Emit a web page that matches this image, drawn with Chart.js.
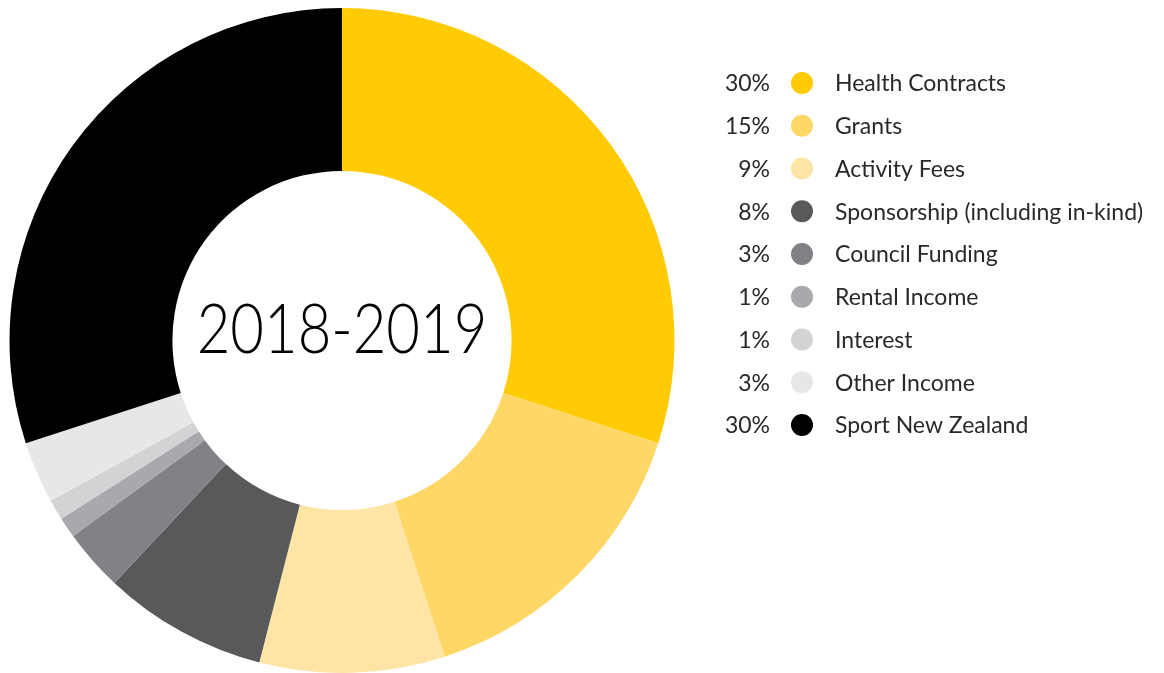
<!DOCTYPE html>
<html>
<head>
<meta charset="utf-8">
<script src="https://cdn.jsdelivr.net/npm/chart.js@4/dist/chart.umd.min.js"></script>
<style>
  html, body { margin: 0; padding: 0; background: #fff; overflow: hidden; }
  #wrap { position: relative; width: 1164px; height: 673px; }
</style>
</head>
<body>
<div id="wrap"><canvas id="income"></canvas></div>
<script>
"use strict"

// Income sources for the year, as shares of the total (%)
const sources = [
  "Health Contracts",
  "Grants",
  "Activity Fees",
  "Sponsorship (including in-kind)",
  "Council Funding",
  "Rental Income",
  "Interest",
  "Other Income",
  "Sport New Zealand",
];
const shares = [30, 15, 9, 8, 3, 1, 1, 3, 30];
const colours = [
  "#FFCB05", "#FED766", "#FFE5A5",
  "#58595B", "#808285", "#A7A9AC",
  "#D1D3D4", "#E6E7E8", "#000000",
];
const yearLabel = "2018-2019";

const textColour = "#2B2829";

// Draws the year in the hole and the percentage legend on the right
const extras = {
  id: "extras",
  afterDraw(chart) {
    const ctx = chart.ctx;
    const arc = chart.getDatasetMeta(0).data[0];
    ctx.save();
    // year in the middle, stretched a little to get the tall light look
    ctx.save();
    ctx.translate(arc.x, arc.y - 10);
    ctx.scale(1, 1.2);
    ctx.fillStyle = "#000";
    ctx.font = "300 58px Lato";
    ctx.textAlign = "center";
    ctx.textBaseline = "middle";
    ctx.fillText(yearLabel, 0, 0);
    ctx.restore();

    ctx.font = "400 23px Lato";
    ctx.textBaseline = "middle";
    sources.forEach((name, i) => {
      const y = 84 + i * 42.75;
      ctx.fillStyle = textColour;
      ctx.textAlign = "right";
      ctx.fillText(shares[i] + "%", 770, y);
      ctx.textAlign = "left";
      ctx.fillText(name, 835, y);
      ctx.fillStyle = colours[i];
      ctx.beginPath();
      ctx.arc(802, y - 1, 11, 0, Math.PI * 2);
      ctx.fill();
    });
    ctx.restore();
  }
};

const canvas = document.querySelector("#income");
const chart = new Chart(canvas, {
  type: "doughnut",
  data: {
    labels: sources,
    datasets: [{
      data: shares,
      backgroundColor: colours,
      borderWidth: 0,
    }]
  },
  options: {
    responsive: true,
    maintainAspectRatio: false,
    animation: false,
    cutout: "51%",
    layout: { padding: { left: 9, top: 8, right: 489, bottom: 0 } },
    plugins: {
      legend: { display: false },
      tooltip: { enabled: false },
    }
  },
  plugins: [extras]
});
</script>
</body>
</html>
